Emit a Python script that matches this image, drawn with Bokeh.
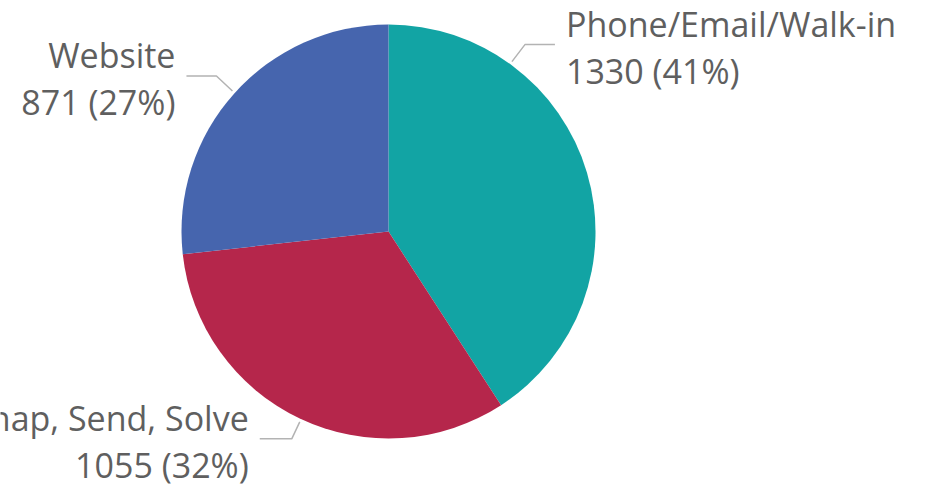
import math
from bokeh.plotting import figure
from bokeh.models import Range1d, ColumnDataSource
from bokeh.core.properties import value
from bokeh.embed import file_html
from bokeh.resources import INLINE

# ---- data ----
categories = ["Phone/Email/Walk-in", "Snap, Send, Solve", "Website"]
counts = [1330, 1055, 871]
colors = ["#12A4A4", "#B5264B", "#4665AE"]

# ---- layout (style) ----
W, H = 929, 490
CX, CY = 388, 490 - 231   # data y = 490 - screen y
R = 207
# label anchor angle (deg), elbow dx, elbow dy, horizontal length, side
label_layout = [
    (54, 13, 17, 30, "right"),
    (-115, -8, -17, 32, "left"),
    (138, -16, 15, 30, "left"),
]

total = sum(counts)
starts, ends = [], []
a = math.pi / 2
for c in counts:
    starts.append(a)
    a2 = a - 2 * math.pi * c / total
    ends.append(a2)
    a = a2

p = figure(width=W, height=H, x_range=Range1d(0, W), y_range=Range1d(490 - H, 490),
           output_backend="svg", toolbar_location=None, min_border=0)
p.axis.visible = False
p.grid.visible = False
p.outline_line_color = None
p.background_fill_color = "white"

src = ColumnDataSource(dict(x=[CX] * 3, y=[CY] * 3, start=starts, end=ends, color=colors))
p.wedge(x="x", y="y", radius=R, start_angle="start", end_angle="end", direction="clock",
        fill_color="color", line_color="white", line_width=0, source=src)

font = value("Open Sans")
fs = "34px"
for cat, cnt, (ang, dx, dy, hl, side) in zip(categories, counts, label_layout):
    rad = math.radians(ang)
    x0 = CX + (R + 3) * math.cos(rad)
    y0 = CY + (R + 3) * math.sin(rad)
    x1, y1 = x0 + dx, y0 + dy
    x2 = x1 + (hl if side == "right" else -hl)
    p.line([x0, x1, x2], [y0, y1, y1], line_color="#B3B3B3", line_width=1.5)
    tx = x2 + (11 if side == "right" else -11)
    align = "left" if side == "right" else "right"
    pct = round(100 * cnt / total)
    p.text(x=[tx], y=[y1 + 21], text=[cat], text_font=font, text_font_size=fs,
           text_color="#5F5F5F", text_align=align, text_baseline="middle")
    p.text(x=[tx], y=[y1 - 26], text=[f"{cnt} ({pct}%)"], text_font=font, text_font_size=fs,
           text_color="#5F5F5F", text_align=align, text_baseline="middle")

open("out.html", "w").write(file_html(p, INLINE))
